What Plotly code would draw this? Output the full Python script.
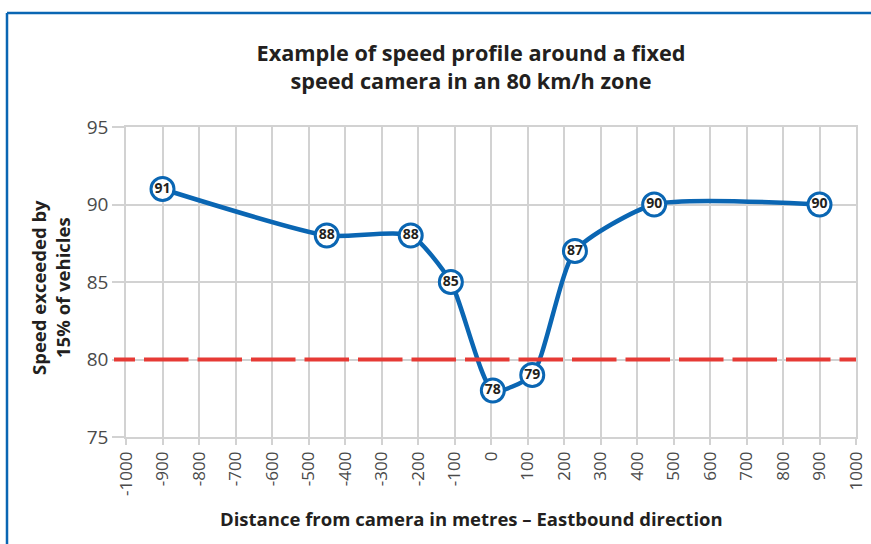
import plotly.graph_objects as go

# Data
distance_m = [-900, -450, -220, -110, 5, 113, 230, 447, 900]
speed_kmh = [91, 88, 88, 85, 78, 79, 87, 90, 90]
speed_limit = 80
x_ticks = list(range(-1000, 1001, 100))
y_ticks = [75, 80, 85, 90, 95]

BLUE = "#0a66b3"
RED = "#e63a35"
GRID = "#d2d2d2"
TXT = "#231f20"
TICK = "#4a4a4a"

fig = go.Figure()

fig.add_trace(go.Scatter(
    x=distance_m, y=speed_kmh,
    mode="lines+markers+text",
    line=dict(color=BLUE, width=4.5, shape="spline", smoothing=0.6),
    marker=dict(size=23, color="white", line=dict(color=BLUE, width=3)),
    text=[str(v) for v in speed_kmh],
    textposition="middle center",
    textfont=dict(family="Open Sans", size=14, color=TXT, weight="bold"),
    cliponaxis=False,
    hoverinfo="x+y",
    showlegend=False,
))

# 80 km/h reference line (drawn above the blue line, as in the original)
dash_pattern = "21px,9px," + ",".join(["44.5px,9px"] * 15)
fig.add_shape(type="line", xref="paper", yref="y",
              x0=-12 / 730, x1=1, y0=speed_limit, y1=speed_limit,
              line=dict(color=RED, width=4, dash=dash_pattern),
              layer="above")

# Blue frame (top and left)
fig.add_shape(type="line", xref="paper", yref="paper",
              x0=(7 - 126) / 730, x1=(880 - 126) / 730,
              y0=(437 - 13) / 310, y1=(437 - 13) / 310,
              line=dict(color=BLUE, width=2.5))
fig.add_shape(type="line", xref="paper", yref="paper",
              x0=(7 - 126) / 730, x1=(7 - 126) / 730,
              y0=(437 - 13) / 310, y1=(437 - 560) / 310,
              line=dict(color=BLUE, width=2.5))

fig.update_layout(
    width=871, height=544,
    margin=dict(l=126, r=15, t=127, b=107),
    paper_bgcolor="white", plot_bgcolor="white",
    title=dict(
        text="Example of speed profile around a fixed<br>speed camera in an 80 km/h zone",
        x=471 / 871, xanchor="center", xref="container",
        y=1 - 61 / 544, yanchor="middle", yref="container",
        font=dict(family="Open Sans", size=21.7, color=TXT, weight="bold"),
    ),
    font=dict(family="Open Sans", color=TICK),
)

fig.update_xaxes(
    range=[-1000, 1000], tickvals=x_ticks, ticktext=[str(t) for t in x_ticks],
    tickangle=-90, tickfont=dict(family="Open Sans", size=17, color=TICK),
    showgrid=True, gridcolor=GRID, gridwidth=1.5,
    ticks="outside", ticklen=6, tickcolor=GRID, tickwidth=1.5,
    showline=True, linecolor=GRID, linewidth=1.5, mirror=True,
    zeroline=False, automargin=False,
)
fig.update_yaxes(
    range=[75, 95], tickvals=y_ticks,
    tickfont=dict(family="Open Sans", size=19, color=TICK),
    showgrid=True, gridcolor=GRID, gridwidth=1.5,
    ticks="outside", ticklen=12, tickcolor=GRID, tickwidth=1.5,
    showline=True, linecolor=GRID, linewidth=1.5, mirror=True,
    zeroline=False, automargin=False,
)

fig.add_annotation(
    text="Distance from camera in metres – Eastbound direction",
    xref="paper", yref="paper",
    x=(471 - 126) / 730, y=(437 - 518) / 310,
    xanchor="center", yanchor="middle", showarrow=False,
    font=dict(family="Open Sans", size=18.5, color=TXT, weight="bold"),
)
fig.add_annotation(
    text="Speed exceeded by<br>15% of vehicles",
    xref="paper", yref="paper",
    x=(50 - 126) / 730, y=(437 - 288) / 310,
    xanchor="center", yanchor="middle", showarrow=False, textangle=-90,
    font=dict(family="Open Sans", size=18.5, color=TXT, weight="bold"),
)

fig.write_html("out.html", config={"displayModeBar": False},
               post_script="document.body.style.margin='0';document.body.style.overflow='hidden';")
